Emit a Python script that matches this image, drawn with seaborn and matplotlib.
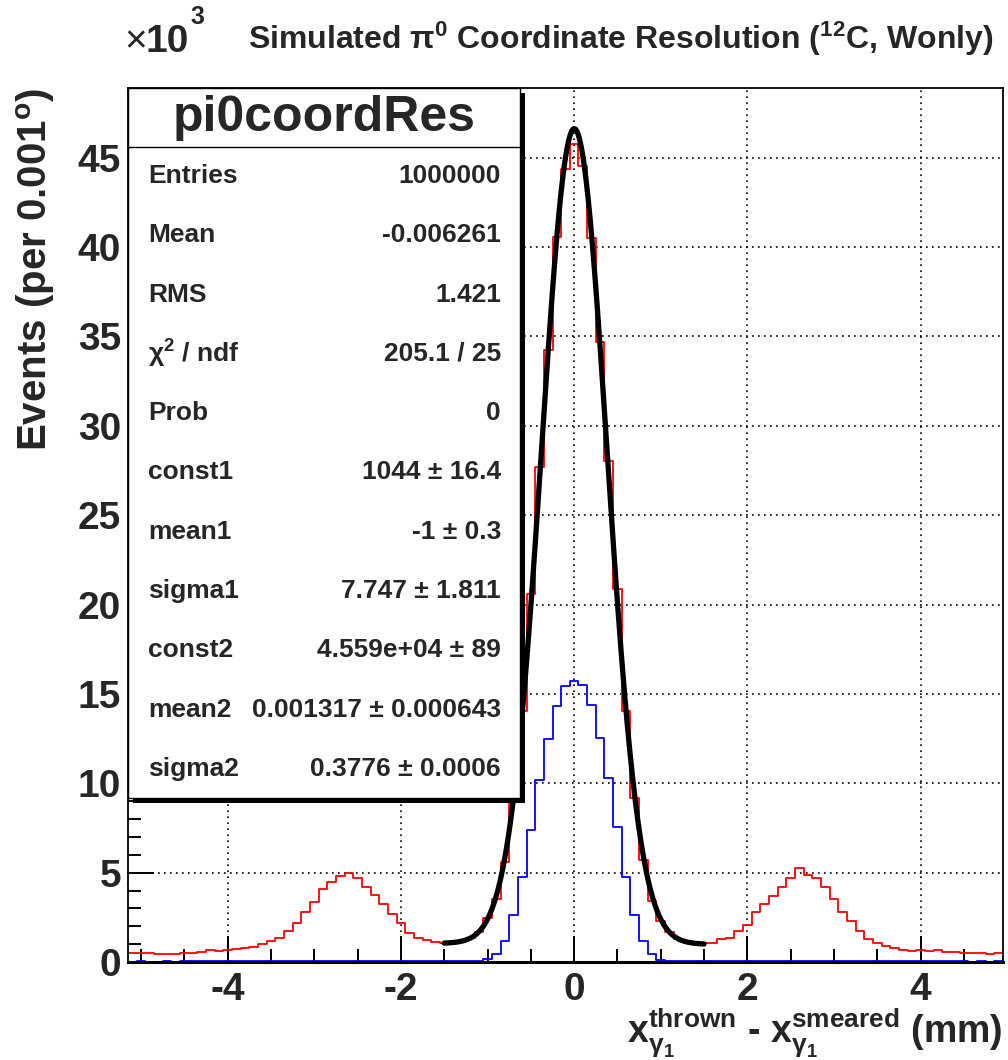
import numpy as np
import pandas as pd
import matplotlib
matplotlib.use("Agg")
import matplotlib.pyplot as plt
import seaborn as sns
from matplotlib.patches import Rectangle
from matplotlib.lines import Line2D
from matplotlib.ticker import MultipleLocator

# ---------------- data (counts in units of 10^3 per bin) ----------------
bin_width = 0.1
x_lo, x_hi = -5.15, 4.95

red_k = [
    0.52, 0.52, 0.50, 0.47, 0.47, 0.47, 0.48, 0.50, 0.56, 0.65,   # -5.1 .. -4.2
    0.64, 0.67, 0.73, 0.77, 0.84, 1.03, 1.16, 1.35, 1.74, 2.21,   # -4.1 .. -3.2
    2.81, 3.37, 4.08, 4.49, 4.79, 4.98, 4.72, 4.21, 3.75, 3.22,   # -3.1 .. -2.2
    2.70, 2.21, 1.65, 1.37, 1.24, 1.14, 1.09, 1.10, 1.18, 1.36,   # -2.1 .. -1.2
    1.68, 2.48, 3.54, 5.60, 9.05, 14.07, 20.6, 27.7, 34.25, 40.54,  # -1.1 .. -0.2
    44.35, 45.77, 44.54, 40.5, 34.71, 28.04, 20.88, 14.07, 9.15, 5.70,  # -0.1 .. 0.8
    3.40, 2.28, 1.69, 1.31, 1.18, 1.09, 1.05, 1.05, 1.27, 1.37,   # 0.9 .. 1.8
    1.74, 2.08, 2.81, 3.22, 3.67, 4.21, 4.72, 5.28, 4.89, 4.68,   # 1.9 .. 2.8
    4.18, 3.52, 2.81, 2.30, 1.74, 1.31, 1.09, 0.90, 0.81, 0.67,   # 2.9 .. 3.8
    0.62, 0.66, 0.60, 0.69, 0.58, 0.56, 0.51, 0.49, 0.49, 0.47,   # 3.9 .. 4.8
    0.51,                                                         # 4.9
]

blue_k = [
    0.02, 0.03, 0.02, 0.02, 0.03, 0.02, 0.03, 0.03, 0.04, 0.07,
    0.05, 0.04, 0.03, 0.04, 0.03, 0.04, 0.05, 0.04, 0.05, 0.06,
    0.05, 0.06, 0.05, 0.06, 0.06, 0.05, 0.06, 0.05, 0.06, 0.06,
    0.08, 0.07, 0.06, 0.05, 0.05, 0.04, 0.04, 0.05, 0.05, 0.06,
    0.05, 0.17, 0.45, 1.20, 2.65, 4.75, 7.40, 10.2, 12.5, 14.3,
    15.45, 15.7, 15.5, 14.4, 12.55, 10.3, 7.55, 4.75, 2.62, 1.18,
    0.44, 0.12, 0.05, 0.04, 0.04, 0.05, 0.04, 0.05, 0.05, 0.06,
    0.06, 0.08, 0.07, 0.06, 0.06, 0.05, 0.06, 0.05, 0.05, 0.04,
    0.05, 0.04, 0.04, 0.04, 0.03, 0.04, 0.03, 0.04, 0.03, 0.03,
    0.03, 0.04, 0.06, 0.04, 0.03, 0.03, 0.03, 0.02, 0.03, 0.02,
    0.03,
]

# fit parameters (double gaussian), as printed in the stats box
const1, mean1, sigma1 = 1044.0, -1.0, 7.747
const2, mean2, sigma2 = 4.559e4, 0.001317, 0.3776
fit_range = (-1.5, 1.5)

stats_labels = ["Entries", "Mean", "RMS", "\u03c7$^{2}$ / ndf", "Prob", "const1",
                "mean1", "sigma1", "const2", "mean2", "sigma2"]
stats_values = ["1000000", "-0.006261", "1.421", "205.1 / 25", "0",
                "1044 \u00b1 16.4", "-1 \u00b1 0.3", "7.747 \u00b1 1.811",
                "4.559e+04 \u00b1 89", "0.001317 \u00b1 0.000643", "0.3776 \u00b1 0.0006"]

x_ticks = [-4, -2, 0, 2, 4]
y_ticks = [0, 5, 10, 15, 20, 25, 30, 35, 40, 45]

# ---------------- styling ----------------
sns.set_style("white")
plt.rcParams['font.family'] = ['Liberation Sans', 'DejaVu Sans']
plt.rcParams['font.weight'] = 'bold'
plt.rcParams['axes.unicode_minus'] = False
plt.rcParams['mathtext.fontset'] = 'custom'
plt.rcParams['mathtext.rm'] = 'Liberation Sans:bold'
plt.rcParams['mathtext.bf'] = 'Liberation Sans:bold'
plt.rcParams['mathtext.it'] = 'Liberation Sans:bold:italic'

W, H = 1008, 1060
fig = plt.figure(figsize=(W / 100, H / 100), dpi=100)

def fx(px):
    return px / W

def fy(py):
    return 1 - py / H

L, R, T, B = 128, 1003, 88, 962
ax = fig.add_axes([fx(L), fy(B), fx(R) - fx(L), fy(T) - fy(B)])

n_bins = len(red_k)
centers = x_lo + bin_width * (np.arange(n_bins) + 0.5)
df = pd.DataFrame({"x": centers, "red": red_k, "blue": blue_k})

sns.histplot(data=df, x="x", weights="red", binwidth=bin_width, binrange=(x_lo, x_hi),
             element="step", fill=False, color="#ff0000", linewidth=1.3, ax=ax)
sns.histplot(data=df, x="x", weights="blue", binwidth=bin_width, binrange=(x_lo, x_hi),
             element="step", fill=False, color="#0000ff", linewidth=1.3, ax=ax)

xf = np.linspace(fit_range[0], fit_range[1], 400)
yf = (const1 * np.exp(-0.5 * ((xf - mean1) / sigma1) ** 2)
      + const2 * np.exp(-0.5 * ((xf - mean2) / sigma2) ** 2)) / 1000.0
sns.lineplot(x=xf, y=yf, color="black", linewidth=3.8, ax=ax, sort=False)

ax.set_xlim(x_lo, x_hi)
ax.set_ylim(0, 48.9)
ax.set_xlabel("")
ax.set_ylabel("")
ax.set_xticks(x_ticks)
ax.set_yticks(y_ticks)
ax.set_xticklabels([str(v) for v in x_ticks])
ax.set_yticklabels([str(v) for v in y_ticks])
ax.xaxis.set_minor_locator(MultipleLocator(0.5))
ax.yaxis.set_minor_locator(MultipleLocator(1))
ax.tick_params(axis='both', which='major', direction='in', length=19, width=1.4,
               labelsize=28, color='black', top=False, right=False,
               bottom=True, left=True)
ax.tick_params(axis='both', which='minor', direction='in', length=9.5, width=1.4,
               color='black', top=False, right=False, bottom=True, left=True)
ax.tick_params(axis='x', which='major', pad=7)
ax.tick_params(axis='y', which='major', pad=5)
for lab in ax.get_xticklabels() + ax.get_yticklabels():
    lab.set_fontweight('bold')

ax.grid(True, which='major', color='black', linestyle=(0, (1, 2.6)), linewidth=1.2)
ax.set_axisbelow(True)
for name, sp in ax.spines.items():
    sp.set_color('black')
    sp.set_linewidth(1.3)
    sp.set_visible(True)
ax.spines['bottom'].set_linewidth(2.2)

# ---------------- texts ----------------
fig.text(fx(994), fy(39), "Simulated \u03c0$^{0}$ Coordinate Resolution ($^{12}$C, Wonly)",
         ha='right', va='center', fontsize=23, fontweight='bold')

fig.text(fx(124), fy(52), "\u00d7", ha='left', va='baseline', fontsize=28, fontweight='normal')
fig.text(fx(146), fy(52), "10", ha='left', va='baseline', fontsize=28, fontweight='bold')
fig.text(fx(190), fy(24), "3", ha='left', va='baseline', fontsize=18, fontweight='bold')

fig.text(fx(36), fy(88), r"Events (per 0.001$^{\mathrm{o}}$)", rotation=90,
         ha='center', va='top', fontsize=29, fontweight='bold')

fig.text(fx(1003), fy(1060),
         r"$\mathrm{x}^{\mathrm{thrown}}_{\mathrm{\gamma}_{1}}$ - $\mathrm{x}^{\mathrm{smeared}}_{\mathrm{\gamma}_{1}}$ (mm)",
         ha='right', va='bottom', fontsize=27, fontweight='bold')

# ---------------- stats box ----------------
bx0, by0, bx1, by1 = 128, 88, 520, 798
shadow = Rectangle((fx(bx0 + 5), fy(by1 + 5)), fx(bx1) - fx(bx0), fy(by0) - fy(by1),
                   transform=fig.transFigure, facecolor='black', edgecolor='black',
                   linewidth=0, zorder=5)
box = Rectangle((fx(bx0), fy(by1)), fx(bx1) - fx(bx0), fy(by0) - fy(by1),
                transform=fig.transFigure, facecolor='white', edgecolor='black',
                linewidth=1.0, zorder=6)
fig.add_artist(shadow)
fig.add_artist(box)
fig.add_artist(Line2D([fx(bx0), fx(bx1)], [fy(147), fy(147)], transform=fig.transFigure,
                      color='black', linewidth=1.0, zorder=7))
fig.text(fx((bx0 + bx1) / 2), fy(118), "pi0coordRes", ha='center', va='center',
         fontsize=36, fontweight='bold', zorder=8)
for i, (lab, val) in enumerate(zip(stats_labels, stats_values)):
    yy = 176 + 59.3 * i
    fig.text(fx(148), fy(yy), lab, ha='left', va='center', fontsize=19,
             fontweight='bold', zorder=8)
    fig.text(fx(501), fy(yy), val, ha='right', va='center', fontsize=19,
             fontweight='bold', zorder=8)

fig.savefig("out.png", dpi=100)
